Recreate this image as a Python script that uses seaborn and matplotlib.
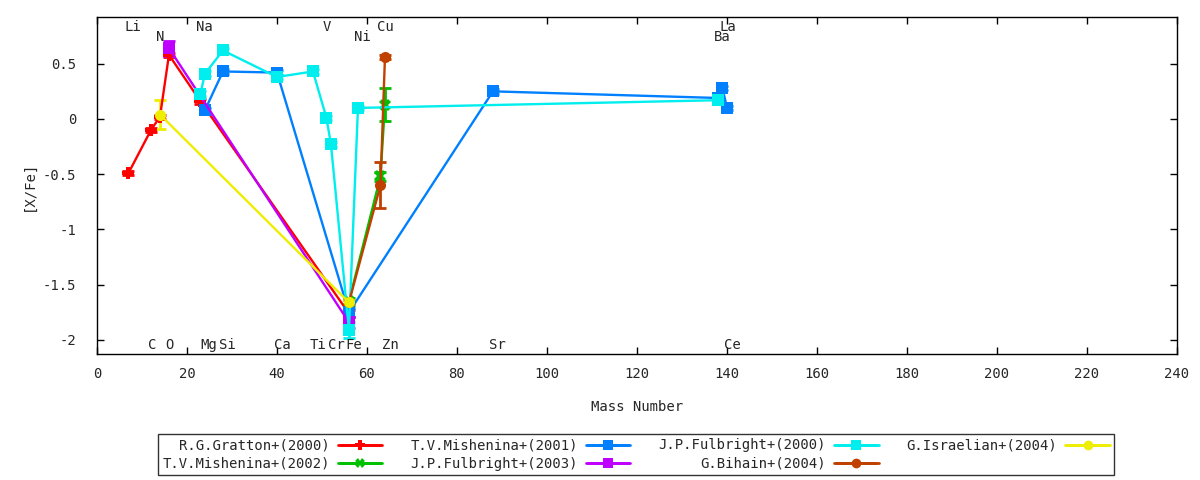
import numpy as np
import pandas as pd
import seaborn as sns
import matplotlib
matplotlib.use('Agg')
import matplotlib.pyplot as plt
from matplotlib.container import ErrorbarContainer
from matplotlib.legend_handler import HandlerErrorbar
from matplotlib.ticker import FuncFormatter

# values
gratton_x = [7, 12, 14, 16, 23, 56]
gratton_y = [-0.49, -0.10, 0.02, 0.58, 0.16, -1.76]
gratton_e = [0.02, 0.02, 0.02, 0.02, 0.02, 0.03]

mishenina02_x = [56, 63, 64]
mishenina02_y = [-1.65, -0.52, 0.13]
mishenina02_e = [0.03, 0.04, 0.15]

mishenina01_x = [24, 28, 40, 56, 88, 138, 139, 140]
mishenina01_y = [0.08, 0.43, 0.42, -1.75, 0.25, 0.19, 0.28, 0.10]
mishenina01_e = [0.02, 0.02, 0.02, 0.04, 0.02, 0.02, 0.02, 0.02]

fulbright03_x = [16, 56]
fulbright03_y = [0.64, -1.84]
fulbright03_e = [0.07, 0.05]

fulbright00_x = [23, 24, 28, 40, 48, 51, 52, 56, 58, 138]
fulbright00_y = [0.23, 0.41, 0.62, 0.38, 0.43, 0.01, -0.23, -1.91, 0.10, 0.17]
fulbright00_e = [0.02, 0.02, 0.02, 0.02, 0.02, 0.02, 0.02, 0.07, 0.02, 0.02]

bihain_x = [56, 63, 64]
bihain_y = [-1.66, -0.60, 0.56]
bihain_e = [0.02, 0.21, 0.02]

israelian_x = [14, 56]
israelian_y = [0.04, -1.66]
israelian_e = [0.13, 0.02]

studies = ['R.G.Gratton+(2000)', 'T.V.Mishenina+(2002)', 'T.V.Mishenina+(2001)',
           'J.P.Fulbright+(2003)', 'J.P.Fulbright+(2000)', 'G.Bihain+(2004)',
           'G.Israelian+(2004)']
colors = ['#ff0000', '#00c000', '#0080ff', '#c000ff', '#00eeee', '#c04000', '#eeee00']
markers = ['P', 'X', 's', 's', 's', 'o', 'o']

top_labels = ['Li', 'Na', 'V', 'Cu', 'La']
top_x = [8, 23.9, 51.1, 64.1, 140.3]
mid_labels = ['N', 'Ni', 'Ba']
mid_x = [14, 59, 139]
bot_labels = ['C', 'O', 'Mg', 'Si', 'Ca', 'Ti', 'Cr', 'Fe', 'Zn', 'Sr', 'Ce']
bot_x = [12.2, 16.2, 24.9, 28.9, 41.1, 49.1, 53.1, 57.1, 65.1, 88.9, 141.1]

series = [
    (gratton_x, gratton_y, gratton_e),
    (mishenina02_x, mishenina02_y, mishenina02_e),
    (mishenina01_x, mishenina01_y, mishenina01_e),
    (fulbright03_x, fulbright03_y, fulbright03_e),
    (fulbright00_x, fulbright00_y, fulbright00_e),
    (bihain_x, bihain_y, bihain_e),
    (israelian_x, israelian_y, israelian_e),
]

frames = []
for name, (xs, ys, es) in zip(studies, series):
    frames.append(pd.DataFrame({'mass': xs, 'xfe': ys, 'err': es, 'study': name}))
df = pd.concat(frames, ignore_index=True)

sns.set_style('ticks', {'xtick.direction': 'in', 'ytick.direction': 'in'})
plt.rcParams['font.family'] = ['DejaVu Sans Mono']
plt.rcParams['font.size'] = 10
plt.rcParams['axes.unicode_minus'] = False

fig = plt.figure(figsize=(12, 4.8), dpi=100)
ax = fig.add_axes([0.0808, 0.2625, 0.9, 0.7021])

palette = dict(zip(studies, colors))
mk = dict(zip(studies, markers))

for name in studies:
    d = df[df['study'] == name]
    ax.errorbar(d['mass'], d['xfe'], yerr=d['err'], fmt='none', ecolor=palette[name],
                elinewidth=2, capsize=4, capthick=2, zorder=2)

sns.lineplot(data=df, x='mass', y='xfe', hue='study', style='study', palette=palette,
             markers=mk, dashes=False, sort=False, estimator=None, legend=False,
             lw=1.7, markersize=8, markeredgewidth=0, ax=ax, zorder=3)

for t, x in zip(top_labels, top_x):
    ax.text(x, 0.833, t, ha='center', va='center', fontsize=10)
for t, x in zip(mid_labels, mid_x):
    ax.text(x, 0.742, t, ha='center', va='center', fontsize=10)
for t, x in zip(bot_labels, bot_x):
    ax.text(x, -2.045, t, ha='center', va='center', fontsize=10)

ax.set_xlim(0, 240)
ax.set_ylim(-2.127, 0.923)
ax.set_xticks(np.arange(0, 241, 20))
ax.set_yticks([0.5, 0, -0.5, -1, -1.5, -2])
ax.yaxis.set_major_formatter(FuncFormatter(lambda v, p: '%g' % v))
ax.tick_params(axis='both', direction='in', top=True, right=True, length=5, width=1,
               labelsize=10, color='black')
ax.tick_params(axis='x', pad=9)
ax.tick_params(axis='y', pad=15)
for s in ax.spines.values():
    s.set_color('black')
    s.set_linewidth(1)
ax.set_xlabel('Mass Number', fontsize=10, labelpad=14)
ax.set_ylabel('[X/Fe]', fontsize=10, labelpad=5)

handles = []
for name in studies:
    h = ax.errorbar([np.nan], [np.nan], xerr=[1], fmt='-', marker=mk[name], color=palette[name],
                    lw=2, markersize=7, markeredgewidth=0, capsize=4, capthick=2, elinewidth=2)
    handles.append(h)

leg = fig.legend(handles, studies, loc='center', bbox_to_anchor=(0.53, 0.053), ncol=4,
                 markerfirst=False, frameon=True, fancybox=False, fontsize=10,
                 handlelength=3.2, handletextpad=0.6, columnspacing=2.0,
                 labelspacing=0.3, borderpad=0.3,
                 handler_map={ErrorbarContainer: HandlerErrorbar(xerr_size=1.5)})
leg.get_frame().set_edgecolor('black')
leg.get_frame().set_linewidth(1)

fig.savefig('out.png', dpi=100, facecolor='white')
